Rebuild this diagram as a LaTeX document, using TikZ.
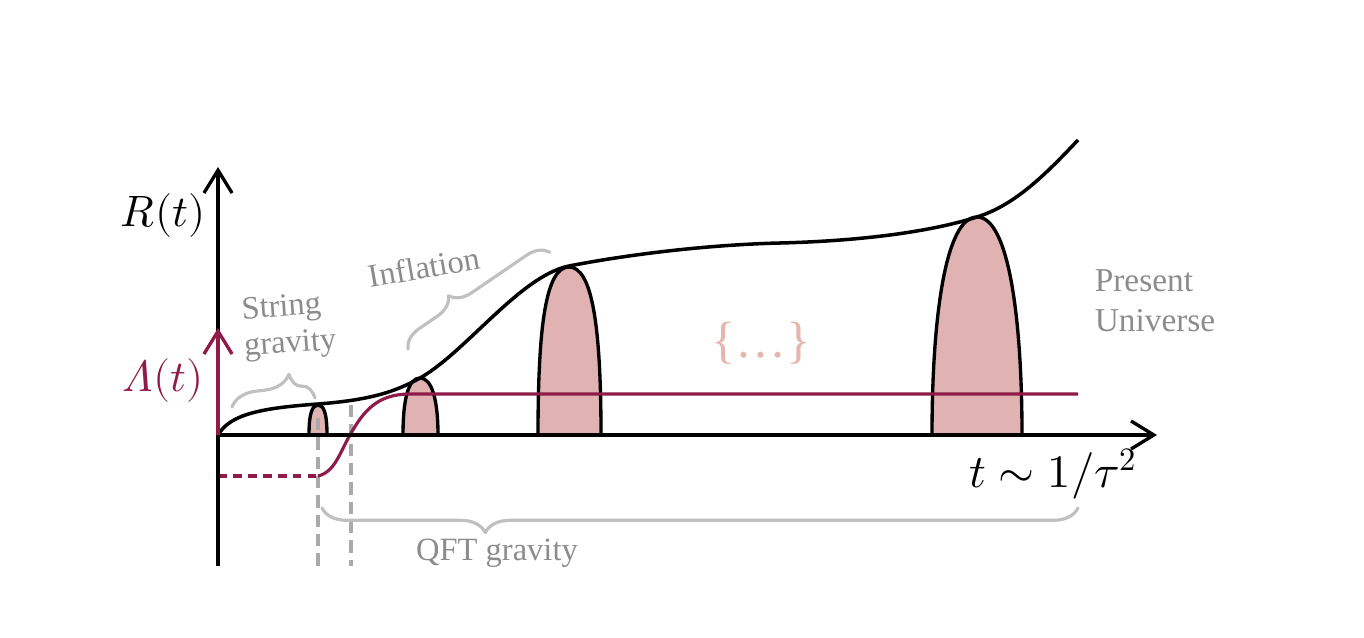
\documentclass[tikz,border=0pt]{standalone}
\usepackage{fontspec}
\usepackage{unicode-math}
\setmainfont{Liberation Serif}
\setmathfont{Latin Modern Math}
\usetikzlibrary{arrows.meta,decorations.pathreplacing}
\definecolor{maroonc}{RGB}{142,27,72}
\definecolor{bumpfill}{RGB}{224,178,178}
\definecolor{bracegray}{RGB}{192,192,192}
\definecolor{dashgray}{RGB}{170,170,170}
\definecolor{textgray}{RGB}{140,140,140}
\definecolor{dotspink}{RGB}{228,182,176}
\tikzset{
  axisline/.style={line width=1.9pt,-{Straight Barb[length=13pt,width=16pt,line width=1.9pt]}},
  bump/.style={fill=bumpfill,draw=black,line width=1.9pt},
  gdash/.style={draw=dashgray,line width=1.8pt,dash pattern=on 7pt off 4pt},
  gbrace/.style={draw=bracegray,line width=1.8pt,line cap=round,line join=round,decorate},
  graytext/.style={text=textgray,font=\fontsize{18.5}{21}\selectfont,inner sep=0pt},
  biglabel/.style={font=\fontsize{25}{29}\selectfont,inner sep=0pt},
}
\begin{document}
\begin{tikzpicture}[x=0.02cm,y=-0.02cm]
\useasboundingbox (0,0) rectangle (1364,638);
% coordinates
\coordinate (O) at (218,435);
\coordinate (ytop) at (218,167);
\coordinate (ybot) at (218,566);
\coordinate (xend) at (1157,435);
\coordinate (ltop) at (218,328);
% bumps
\draw[bump] (309,435) .. controls (309,414) and (312,405) .. (318,405) .. controls (324,405) and (327,414) .. (327,435);
\draw[bump] (403,435) .. controls (403,400) and (408,378) .. (420,378) .. controls (432,378) and (438,400) .. (438,435);
\draw[bump] (538,435) .. controls (538,325) and (546,267) .. (569,267) .. controls (592,267) and (601,325) .. (601,435);
\draw[bump] (932,435) .. controls (932,320) and (945,217) .. (977,217) .. controls (1009,217) and (1022,320) .. (1022,435);
% gray dashed verticals
\coordinate (d1t) at (318,418);
\coordinate (d1b) at (318,566);
\coordinate (d2t) at (351,405);
\coordinate (d2b) at (351,566);
\draw[gdash] (d1t) -- (d1b);
\draw[gdash] (d2t) -- (d2b);
% Lambda curve
\coordinate (l0) at (218,476);
\coordinate (l1) at (318,476);
\coordinate (l2) at (350,435);
\coordinate (l3) at (410,394);
\coordinate (l4) at (1078,394);
\draw[maroonc,line width=1.8pt,dash pattern=on 5pt off 3.5pt] (l0) -- (l1);
\draw[maroonc,line width=1.8pt] (l1) .. controls (335,472) and (340,452) .. (l2) .. controls (364,410) and (378,394) .. (l3) -- (l4);
% R curve
\coordinate (r0) at (218,435);
\coordinate (r1) at (318,404);
\coordinate (r2) at (420,378);
\coordinate (r3) at (569,266);
\coordinate (r4) at (780,243);
\coordinate (r5) at (977,217);
\coordinate (r6) at (1078,140);
\draw[line width=2pt] (r0) .. controls (230,414) and (262,408) .. (r1)
  .. controls (370,400) and (395,392) .. (r2)
  .. controls (466,352) and (520,276) .. (r3)
  .. controls (620,256) and (700,245) .. (r4)
  .. controls (860,241) and (930,232) .. (r5)
  .. controls (1015,205) and (1045,175) .. (r6);
% axes
\draw[axisline] (ybot) -- (ytop);
\draw[axisline] (O) -- (xend);
\draw[axisline,maroonc] (O) -- (ltop);
% labels
\node[biglabel] (R) at (163,216) {$R(t)$};
\node[biglabel,text=maroonc] (L) at (163,381) {$\symit{\Lambda}(t)$};
\node[biglabel,font=\fontsize{26.5}{30}\selectfont] (tl) at (1053,474) {$t\sim1/\tau^2$};
% braces
\coordinate (sgA) at (232,407);
\coordinate (sgB) at (315,398);
\draw[gbrace,decoration={brace,amplitude=15pt,aspect=0.72}] (sgA) -- (sgB);
\coordinate (infA) at (408,349);
\coordinate (infB) at (550,252);
\draw[gbrace,decoration={brace,amplitude=12pt,aspect=0.37}] (infA) -- (infB);
\coordinate (qA) at (1078,508);
\coordinate (qB) at (322,508);
\draw[gbrace,decoration={brace,amplitude=14pt,aspect=0.784}] (qA) -- (qB);
% texts
\node[graytext,rotate=4,align=left] (sg) at (289,327) {String\\gravity};
\node[graytext,rotate=10] (inf) at (424,267) {Inflation};
\node[graytext] (qft) at (497,553) {QFT gravity};
\node[graytext,align=left,font=\fontsize{19}{23}\selectfont] (pu) at (1155,301) {Present\\Universe};
\node[text=dotspink,font=\fontsize{29}{32}\selectfont,inner sep=0pt] (dots) at (761,343) {\{\ldots\}};
\end{tikzpicture}
\end{document}
